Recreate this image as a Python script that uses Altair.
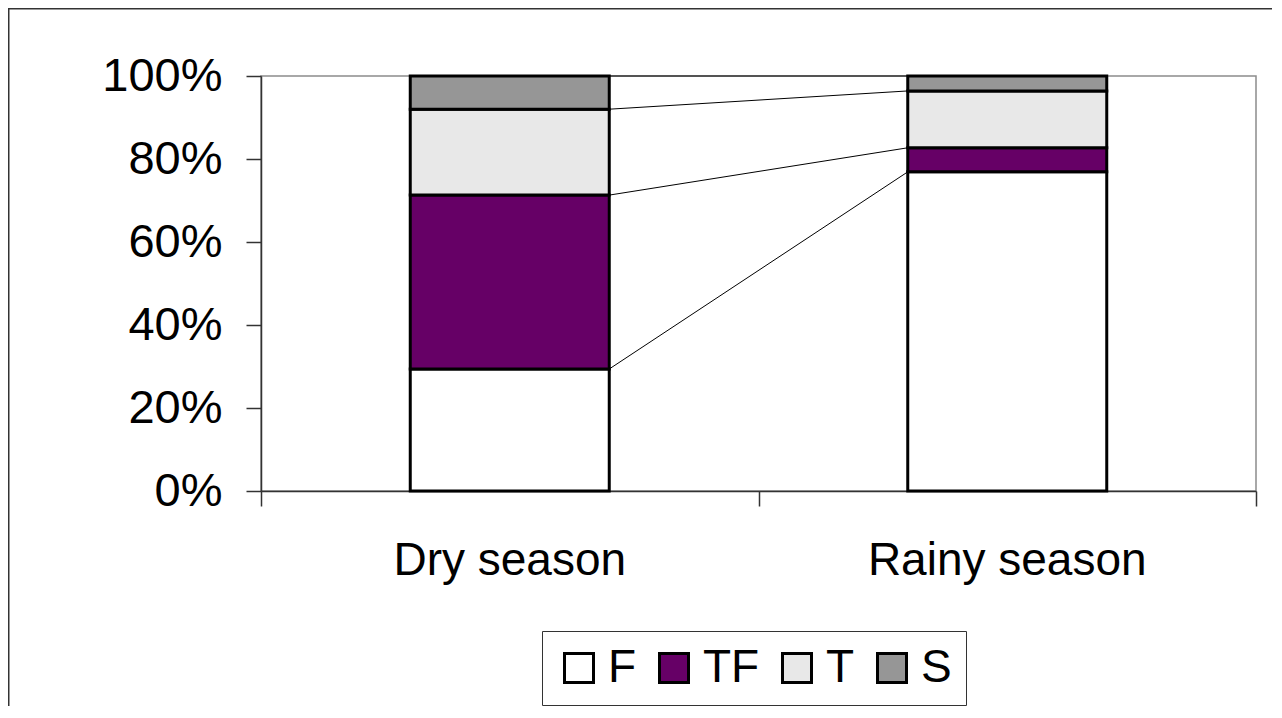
import altair as alt
import pandas as pd

# ---- data (percent of total) ----
categories = ["Dry season", "Rainy season"]
series = ["F", "TF", "T", "S"]
F_vals = [29.4, 76.9]
TF_vals = [41.9, 5.8]
T_vals = [20.7, 13.7]
S_vals = [8.0, 3.6]
colors = ["#ffffff", "#660066", "#e8e8e8", "#969696"]

FONT = "Liberation Sans"
BAR_HALF = 0.2  # half bar width in category units

# ---- build tables ----
vals = {"F": F_vals, "TF": TF_vals, "T": T_vals, "S": S_vals}
rows = []
cums = {}
for i, cat in enumerate(categories):
    c = 0.0
    for s in series:
        v = vals[s][i] / 100.0
        rows.append({"category": cat, "series": s, "x0": i + 0.5 - BAR_HALF,
                     "x1": i + 0.5 + BAR_HALF, "y0": c, "y1": c + v})
        c += v
        cums[(s, i)] = c
bars_df = pd.DataFrame(rows)

lines_df = pd.DataFrame([
    {"series": s, "xa": 0.5 + BAR_HALF, "xb": 1.5 - BAR_HALF,
     "ya": cums[(s, 0)], "yb": cums[(s, 1)]}
    for s in series
])

labels_df = pd.DataFrame({"category": categories,
                          "xc": [i + 0.5 for i in range(len(categories))]})
one = pd.DataFrame({"a": [0]})

xscale = alt.Scale(domain=[0, 2], nice=False, zero=False)
yscale = alt.Scale(domain=[0, 1], nice=False)

bars = alt.Chart(bars_df).mark_bar(stroke="black", strokeWidth=3).encode(
    x=alt.X("x0:Q", scale=xscale,
            axis=alt.Axis(values=[0, 1, 2], labels=False, title=None, grid=False,
                          tickSize=15, tickColor="#333", domainColor="#333",
                          domainWidth=1.5, tickWidth=1.5)),
    x2="x1:Q",
    y=alt.Y("y0:Q", scale=yscale,
            axis=alt.Axis(values=[0, 0.2, 0.4, 0.6, 0.8, 1.0], format="%", title=None,
                          grid=False, tickSize=15, tickColor="#333", tickWidth=1.5,
                          domainColor="#333", domainWidth=1.5,
                          labelFont=FONT, labelFontSize=47, labelColor="black",
                          labelPadding=24)),
    y2="y1:Q",
    color=alt.Color("series:N", scale=alt.Scale(domain=series, range=colors),
                    legend=alt.Legend(title=None, orient="none", legendX=281, legendY=555,
                                      direction="horizontal", symbolType="square",
                                      symbolSize=841, symbolStrokeColor="black",
                                      symbolStrokeWidth=3, labelFont=FONT,
                                      labelFontSize=46, labelColor="black",
                                      labelOffset=6, columnPadding=14, padding=14,
                                      strokeColor="#333", fillColor="white",
                                      labelLimit=300)),
    order=alt.Order("y0:Q"),
)

lines = alt.Chart(lines_df).mark_rule(color="black", strokeWidth=1).encode(
    x=alt.X("xa:Q", scale=xscale), x2="xb:Q",
    y=alt.Y("ya:Q", scale=yscale), y2="yb:Q",
)

cat_text = alt.Chart(labels_df).mark_text(
    font=FONT, fontSize=46, color="black", baseline="alphabetic", align="center"
).encode(
    x=alt.X("xc:Q", scale=xscale),
    y=alt.value(499),
    text="category:N",
)

frame_top = alt.Chart(one).mark_rule(color="#333", strokeWidth=2).encode(
    x=alt.value(-253), x2=alt.value(1100), y=alt.value(-67.5))
frame_left = alt.Chart(one).mark_rule(color="#333", strokeWidth=2).encode(
    x=alt.value(-252.5), y=alt.value(-68), y2=alt.value(700))

chart = alt.layer(lines, bars, cat_text, frame_top, frame_left).properties(
    width=995, height=415,
    autosize=alt.AutoSizeParams(type="none"),
    padding={"left": 253, "top": 68, "right": 16, "bottom": 215},
    background="white",
).configure_view(stroke="#8c8c8c", strokeWidth=1.5)

chart.save("out.html", embed_options={"renderer": "svg", "actions": False})
